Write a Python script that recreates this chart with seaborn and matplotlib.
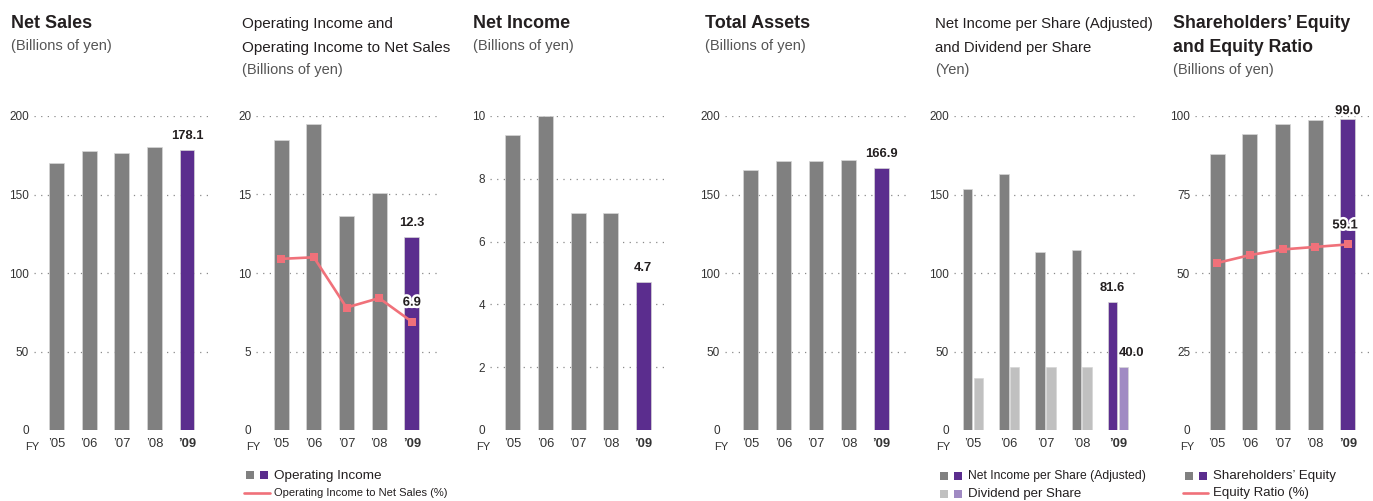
import numpy as np
import pandas as pd
import matplotlib
matplotlib.use("Agg")
import matplotlib.pyplot as plt
import matplotlib.patheffects as pe
from matplotlib.patches import Rectangle
from matplotlib.lines import Line2D
import seaborn as sns

sns.set_style("white")
plt.rcParams['font.family'] = ['Liberation Sans', 'DejaVu Sans']

# ---------------- data ----------------
years = ["’05", "’06", "’07", "’08", "’09"]
net_sales = [170.2, 178.0, 176.5, 180.3, 178.1]
op_income = [18.5, 19.5, 13.6, 15.1, 12.3]
op_margin = [10.9, 11.0, 7.8, 8.4, 6.9]
net_income = [9.4, 10.0, 6.9, 6.9, 4.7]
total_assets = [165.8, 171.5, 171.2, 171.7, 166.9]
eps_adj = [153.3, 163.0, 113.4, 114.6, 81.6]
dps = [33.0, 40.0, 40.0, 40.0, 40.0]
equity = [88.0, 94.4, 97.3, 98.6, 99.0]
equity_ratio = [53.2, 55.7, 57.5, 58.3, 59.1]

GRAY = '#808080'
PURPLE = '#5b2d8e'
LGRAY = '#c0c0c0'
LPURPLE = '#a08ac3'
PINK = '#f0717a'
DARK = '#231f20'
SUB = '#555555'
TICK = '#333333'

W, H = 1373, 501
fig = plt.figure(figsize=(W / 100, H / 100), dpi=100)


def fx(x):
    return x / W


def fy(y):
    return 1 - y / H


Y0, Y1 = 430, 116  # pixel rows of axis bottom / top


def make_ax(left, right):
    ax = fig.add_axes([fx(left), fy(Y0), (right - left) / W, (Y0 - Y1) / H])
    ax._px = (left, right)
    return ax


def finish(ax, c0, c4, ymax, step, fy_right):
    left, right = ax._px
    s = (c4 - c0) / 4.0
    ax.set_xlim(-(c0 - left) / s, 4 + (right - c4) / s)
    ax.set_ylim(0, ymax)
    ax.set_yticks(np.arange(0, ymax + step / 2, step))
    for sp in ax.spines.values():
        sp.set_visible(False)
    ax.tick_params(axis='both', length=0)
    ax.tick_params(axis='y', labelsize=8.5, labelcolor=TICK, pad=3.5)
    ax.tick_params(axis='x', labelsize=9.4, labelcolor=TICK, pad=6.0)
    ax.set_axisbelow(True)
    ax.yaxis.grid(True, linestyle=(0, (1, 4.3)), color='#8a8a8a', lw=0.9)
    ax.xaxis.grid(False)
    gl = ax.get_ygridlines()
    gl[0].set_visible(False)
    ax.set_xlabel('')
    ax.set_ylabel('')
    ax.set_xticks(range(5))
    ax.set_xticklabels(years)
    ax.get_xticklabels()[-1].set_fontweight('bold')
    fig.text(fx(fy_right), fy(450), 'FY', ha='right', va='baseline',
             fontsize=8, color=TICK)


def single_bars(ax, vals, width=0.46):
    df = pd.DataFrame({'year': years, 'val': vals})
    sns.barplot(data=df, x='year', y='val', hue='year',
                palette=[GRAY] * 4 + [PURPLE], width=width, dodge=False,
                legend=False, ax=ax, edgecolor='#d6d6d6', linewidth=0.5,
                saturation=1)


def line(ax, vals):
    sns.lineplot(x=np.arange(5), y=vals, ax=ax, color=PINK, lw=1.9,
                 marker='s', markersize=6.2, markeredgewidth=0, zorder=5)


def label(ax, i, v, dy=8.0, dx=0.0, stroke=False):
    t = ax.annotate(f'{v:.1f}', xy=(i, v), xytext=(dx, dy),
                    textcoords='offset points', ha='center', va='baseline',
                    fontsize=9.4, fontweight='bold', color=DARK,
                    annotation_clip=False, zorder=10)
    if stroke:
        t.set_path_effects([pe.withStroke(linewidth=3.5, foreground='white')])


# ---------------- panels ----------------
ax1 = make_ax(34, 211)
single_bars(ax1, net_sales)
label(ax1, 4, net_sales[4])
finish(ax1, 56.7, 187.0, 200, 50, 39)

ax2 = make_ax(256, 437)
single_bars(ax2, op_income)
line(ax2, op_margin)
label(ax2, 4, op_income[4])
label(ax2, 4, op_margin[4], dy=11.5, stroke=True)
finish(ax2, 281.2, 411.8, 20, 5, 260)

ax3 = make_ax(490, 667)
single_bars(ax3, net_income)
label(ax3, 4, net_income[4])
finish(ax3, 512.8, 643.3, 10, 2, 490)

ax4 = make_ax(725, 906)
single_bars(ax4, total_assets)
label(ax4, 4, total_assets[4])
finish(ax4, 750.8, 881.2, 200, 50, 728)

ax5 = make_ax(954, 1136)
df5 = pd.DataFrame({'year': years * 2,
                    'val': eps_adj + dps,
                    'series': ['Net Income per Share (Adjusted)'] * 5 +
                              ['Dividend per Share'] * 5})
sns.barplot(data=df5, x='year', y='val', hue='series',
            palette=[GRAY, LGRAY], width=0.59, gap=0.1, legend=False,
            ax=ax5, edgecolor='#d6d6d6', linewidth=0.5, saturation=1)
bars = [p for p in ax5.patches if isinstance(p, Rectangle)]
bars[4].set_facecolor(PURPLE)
bars[9].set_facecolor(LPURPLE)
xc_eps = bars[4].get_x() + bars[4].get_width() / 2
xc_dps = bars[9].get_x() + bars[9].get_width() / 2
for xc, v, dx in [(xc_eps, eps_adj[4], 0), (xc_dps, dps[4], 6)]:
    ax5.annotate(f'{v:.1f}', xy=(xc, v), xytext=(dx, 8.0),
                 textcoords='offset points', ha='center', va='baseline',
                 fontsize=9.4, fontweight='bold', color=DARK,
                 annotation_clip=False)
finish(ax5, 973.0, 1118.0, 200, 50, 950)

ax6 = make_ax(1195, 1373)
single_bars(ax6, equity)
line(ax6, equity_ratio)
label(ax6, 4, equity[4], dy=3.6, stroke=True)
label(ax6, 4, equity_ratio[4], dy=11.5, dx=-2, stroke=True)
finish(ax6, 1217.2, 1347.8, 100, 25, 1194)

# ---------------- titles ----------------
def title(x, lines, bold, size, sub):
    y = 28
    for ln in lines:
        fig.text(fx(x), fy(y), ln, ha='left', va='baseline', fontsize=size,
                 fontweight='bold' if bold else 'normal', color=DARK)
        y += 24
    fig.text(fx(x), fy(y - 2), sub, ha='left', va='baseline', fontsize=10.5,
             color=SUB)


title(11, ['Net Sales'], True, 13, '(Billions of yen)')
title(242, ['Operating Income and', 'Operating Income to Net Sales'], False,
      11, '(Billions of yen)')
title(473, ['Net Income'], True, 13, '(Billions of yen)')
title(705, ['Total Assets'], True, 13, '(Billions of yen)')
title(935, ['Net Income per Share (Adjusted)', 'and Dividend per Share'],
      False, 10.7, '(Yen)')
title(1173, ['Shareholders’ Equity', 'and Equity Ratio'], True, 12.8,
      '(Billions of yen)')

# ---------------- legends ----------------
def sq(x0, y0, color, size=8):
    fig.patches.append(Rectangle((fx(x0), fy(y0 + size)), size / W, size / H,
                                 transform=fig.transFigure, facecolor=color,
                                 edgecolor='none'))


def lline(x0, x1, y):
    fig.add_artist(Line2D([fx(x0), fx(x1)], [fy(y), fy(y)],
                          transform=fig.transFigure, color=PINK, lw=1.9))


def ltext(x, y, s, size):
    fig.text(fx(x), fy(y), s, ha='left', va='center', fontsize=size,
             color=DARK)


sq(246, 470.5, GRAY); sq(260, 470.5, PURPLE)
ltext(274, 475.5, 'Operating Income', 9.7)
lline(244, 270, 493.3)
ltext(274, 493.3, 'Operating Income to Net Sales (%)', 8.0)

sq(940, 471.5, GRAY); sq(954, 471.5, PURPLE)
ltext(968, 476, 'Net Income per Share (Adjusted)', 8.7)
sq(940, 490, LGRAY); sq(954, 490, LPURPLE)
ltext(968, 494.3, 'Dividend per Share', 9.5)

sq(1185, 471.5, GRAY); sq(1199, 471.5, PURPLE)
ltext(1213, 476, 'Shareholders’ Equity', 9.6)
lline(1183, 1208, 493.3)
ltext(1213, 493.3, 'Equity Ratio (%)', 9.5)

fig.savefig('out.png', dpi=100)
